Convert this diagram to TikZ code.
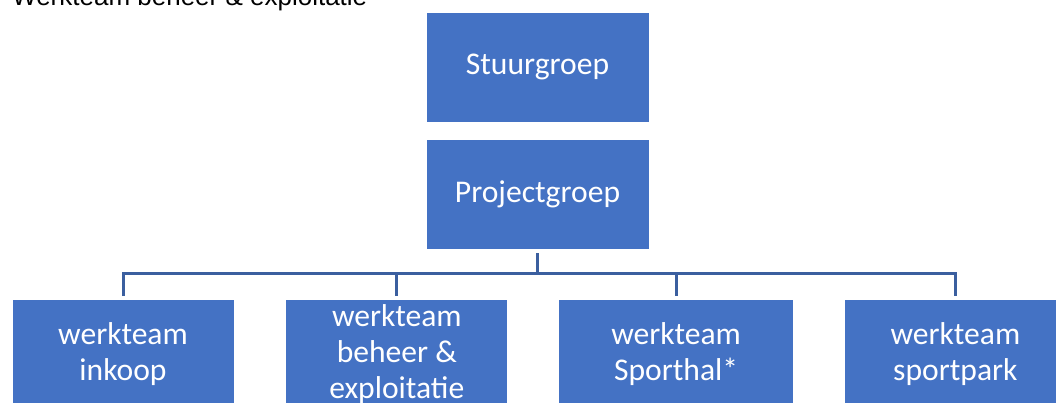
\documentclass[tikz,border=0pt]{standalone}
\usepackage{fontspec}
\setmainfont{Carlito}
\newfontfamily\arialfont{Liberation Sans}
\usepackage{tikz}
\usetikzlibrary{positioning}
\definecolor{boxblue}{RGB}{68,114,196}
\definecolor{linkblue}{RGB}{59,95,159}
\tikzset{
  grp/.style={draw=white,line width=0.8pt,fill=boxblue,text=white,
              minimum width=223pt,minimum height=110pt,inner sep=0pt,
              align=center,font=\fontsize{31.6}{36}\selectfont},
  team/.style={grp,minimum width=222pt},
  link/.style={draw=linkblue,line width=3pt},
}

\begin{document}
\begin{tikzpicture}[x=1pt,y=-1pt,node distance=17pt]
  \useasboundingbox (0,0) rectangle (1056,403);
  \node[anchor=base west,inner sep=0pt,font=\arialfont\fontsize{26}{30}\selectfont]
        (title) at (12,6) {Werkteam beheer \& exploitatie};
  \node[grp] (stuur) at (537.5,67) {Stuurgroep};
  \node[grp,below=of stuur] (proj) {Projectgroep};
  % de werkteams
  \node[team] (inkoop) at (123,354.5) {werkteam\\inkoop};
  \node[team,right=51pt of inkoop] (beheer) {werkteam\\beheer \&\\exploitatie};
  \node[team,minimum width=235pt,right=50pt of beheer] (sporthal) {werkteam\\Sporthal*};
  \node[team,right=50pt of sporthal] (sportpark) {werkteam\\sportpark};
  \coordinate (bus) at (537.5,273.5);
  \draw[link] ([yshift=-3pt]proj.south) -- (proj.south |- bus);
  \draw[link] ([yshift=3pt]inkoop.north) -- (inkoop.north |- bus)
        -- (sportpark.north |- bus) -- ([yshift=3pt]sportpark.north);
  \foreach \t in {beheer,sporthal}
    \draw[link] (\t.north |- bus) -- ([yshift=3pt]\t.north);
\end{tikzpicture}
\end{document}
